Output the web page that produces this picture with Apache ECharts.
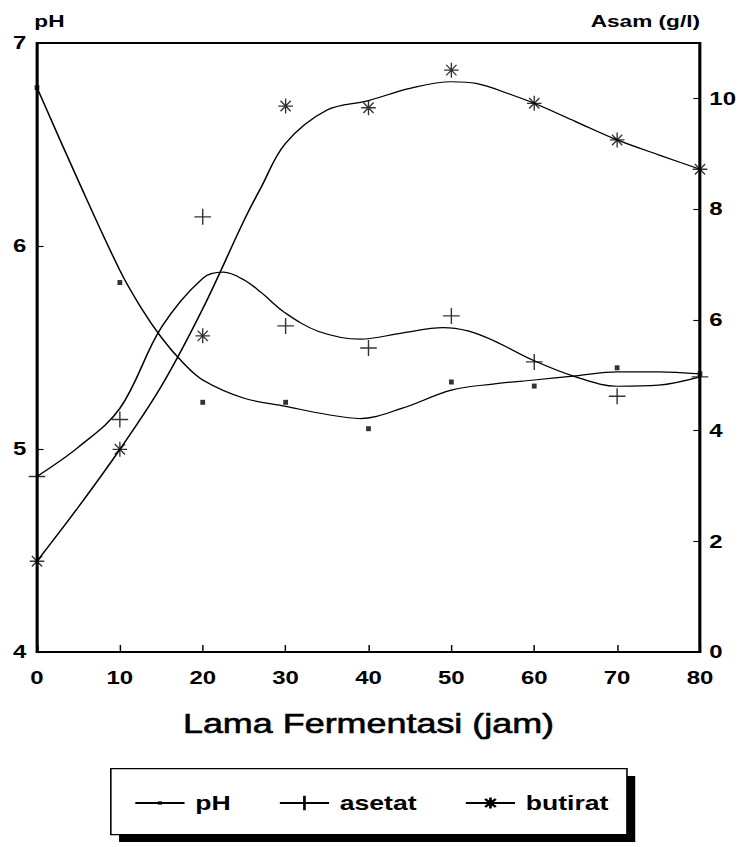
<!DOCTYPE html>
<html>
<head>
<meta charset="utf-8">
<script src="https://cdn.jsdelivr.net/npm/echarts@6/dist/echarts.min.js"></script>
<style>
html,body{margin:0;padding:0;background:#fff;overflow:hidden;width:741px;height:847px;}
/* the scanned original is stretched horizontally; draw at 557px and stretch to 741px */
#c{width:557px;height:847px;transform:scaleX(1.3303);transform-origin:0 0;}
</style>
</head>
<body>
<div id="c"></div>
<script>
// measured data points
const hours = [0, 10, 20, 30, 40, 50, 60, 70, 80];
const phValues = [6.78, 5.82, 5.23, 5.23, 5.10, 5.33, 5.31, 5.40, 5.37];
const asetatValues = [3.17, 4.20, 7.86, 5.89, 5.49, 6.07, 5.24, 4.62, 4.97];
const butiratValues = [1.64, 3.66, 5.71, 9.86, 9.83, 10.51, 9.91, 9.25, 8.72];

// fitted curves
const phCurveHours = [0, 5, 10, 12.5, 15, 17.5, 20, 25, 30, 35, 39, 44, 50, 55, 60, 65, 70, 75, 80];
const phCurve = [6.78, 6.32, 5.88, 5.70, 5.55, 5.43, 5.34, 5.25, 5.21, 5.17, 5.15, 5.20, 5.29, 5.32, 5.34, 5.36, 5.38, 5.38, 5.37];
const asetatCurveHours = [0, 5, 10, 15, 20, 22.5, 25, 27, 30, 34, 39, 44, 49, 52, 55, 60, 65, 70, 75, 80];
const asetatCurve = [3.17, 3.70, 4.40, 5.86, 6.75, 6.86, 6.72, 6.50, 6.12, 5.79, 5.65, 5.76, 5.86, 5.80, 5.63, 5.26, 4.97, 4.80, 4.82, 4.97];
const butiratCurveHours = [0, 5, 10, 15, 20, 25, 27, 30, 35, 40, 45, 50, 53, 57, 60, 65, 70, 75, 80];
const butiratCurve = [1.64, 2.62, 3.66, 4.80, 6.20, 7.80, 8.38, 9.19, 9.79, 9.96, 10.18, 10.30, 10.27, 10.08, 9.91, 9.58, 9.25, 8.98, 8.72];

const xTicks = [0, 10, 20, 30, 40, 50, 60, 70, 80];
const phTicks = [4, 5, 6, 7];
const acidTicks = [0, 2, 4, 6, 8, 10];
const acidMax = 11;

const seriesNames = ['pH', 'asetat', 'butirat'];

const pair = (xs, ys) => xs.map((x, i) => [x, ys[i]]);

const plusPath = 'path://M0,10L20,10M10,0L10,20';
const starPath = 'path://M0,10L20,10M10,0L10,20M3,3L17,17M17,3L3,17';
// legend icons (padded with empty moves so they keep a smaller size)
const legendDot = 'path://M0,0M20,20M8,8L12,8L12,12L8,12Z';
const legendPlus = 'path://M0,0M20,20M1,10L19,10M10,1L10,19';
const legendStar = 'path://M0,0M20,20M3,10L17,10M10,3L10,17M5,5L15,15M15,5L5,15';
const FONT = 'Liberation Sans, Arial, sans-serif';
const strokeStyle = {color: 'rgba(0,0,0,0)', borderColor: '#000', borderWidth: 1.2};

const chart = echarts.init(document.getElementById('c'), null, {renderer: 'svg'});
chart.setOption({
  backgroundColor: '#fff',
  animation: false,
  grid: {left: 27.8, right: 30.8, top: 43, bottom: 195, show: true, borderColor: '#000', borderWidth: 2, backgroundColor: 'transparent'},
  graphic: [
    {type: 'rect', left: 89.5, top: 776, z: 0, shape: {width: 388, height: 66}, style: {fill: '#000'}},
    {type: 'rect', left: 82.7, top: 768, z: 1, shape: {width: 388, height: 66}, style: {fill: '#fff', stroke: '#000', lineWidth: 1.2}}
  ],
  xAxis: {
    type: 'value', min: xTicks[0], max: xTicks[xTicks.length - 1], interval: 10,
    name: 'Lama Fermentasi (jam)', nameLocation: 'middle', nameGap: 58,
    nameTextStyle: {fontFamily: FONT, fontSize: 27, fontWeight: 'normal', color: '#000', textBorderColor: '#000', textBorderWidth: 0.6},
    axisLine: {lineStyle: {color: '#000', width: 2}},
    axisTick: {inside: true, length: 7, lineStyle: {color: '#000', width: 1.1}},
    axisLabel: {fontFamily: FONT, fontSize: 18, fontWeight: 'bold', color: '#000', margin: 17},
    splitLine: {show: false}
  },
  yAxis: [{
    type: 'value', min: phTicks[0], max: phTicks[phTicks.length - 1], interval: 1,
    name: 'pH', nameLocation: 'end', nameGap: 22,
    nameTextStyle: {fontFamily: FONT, fontSize: 17, fontWeight: 'bold', color: '#000', align: 'left', verticalAlign: 'middle', padding: [0, 0, 0, -2]},
    axisLine: {show: true, lineStyle: {color: '#000', width: 2}},
    axisTick: {inside: true, length: 5, lineStyle: {color: '#000', width: 1.1}},
    axisLabel: {fontFamily: FONT, fontSize: 18, fontWeight: 'bold', color: '#000', margin: 8},
    splitLine: {show: false}
  }, {
    type: 'value', min: acidTicks[0], max: acidMax, interval: 2, position: 'right',
    name: 'Asam (g/l)', nameLocation: 'end', nameGap: 22,
    nameTextStyle: {fontFamily: FONT, fontSize: 17, fontWeight: 'bold', color: '#000', align: 'right', verticalAlign: 'middle'},
    axisLine: {show: true, lineStyle: {color: '#000', width: 2}},
    axisTick: {inside: true, length: 5, lineStyle: {color: '#000', width: 1.1}},
    axisLabel: {fontFamily: FONT, fontSize: 18, fontWeight: 'bold', color: '#000', margin: 7, showMaxLabel: false,
      formatter: v => (acidTicks.indexOf(v) >= 0 ? String(v) : '')},
    splitLine: {show: false}
  }],
  legend: {
    data: seriesNames,
    left: 100.7, top: 793, z: 5,
    padding: 0,
    itemGap: 36, itemWidth: 37, itemHeight: 20,
    textStyle: {fontFamily: FONT, fontSize: 20, fontWeight: 'bold', color: '#000', padding: [0, 0, 0, 3]}
  },
  series: [
    {name: 'pH', type: 'line', yAxisIndex: 0, data: pair(phCurveHours, phCurve), smooth: 0.35,
      symbol: legendDot, showSymbol: false, lineStyle: {color: '#000', width: 1.2},
      itemStyle: {color: '#000'}, z: 3},
    {name: 'asetat', type: 'line', yAxisIndex: 1, data: pair(asetatCurveHours, asetatCurve), smooth: 0.35,
      symbol: legendPlus, showSymbol: false, lineStyle: {color: '#000', width: 1.2},
      itemStyle: strokeStyle, z: 3},
    {name: 'butirat', type: 'line', yAxisIndex: 1, data: pair(butiratCurveHours, butiratCurve), smooth: 0.35,
      symbol: legendStar, showSymbol: false, lineStyle: {color: '#000', width: 1.2},
      itemStyle: strokeStyle, z: 3},
    {name: 'pH data', type: 'scatter', yAxisIndex: 0, data: pair(hours, phValues),
      symbol: 'rect', symbolSize: [3.6, 5], itemStyle: {color: '#000'}, z: 4},
    {name: 'asetat data', type: 'scatter', yAxisIndex: 1, data: pair(hours, asetatValues),
      symbol: plusPath, symbolSize: [12.5, 16], itemStyle: strokeStyle, z: 4},
    {name: 'butirat data', type: 'scatter', yAxisIndex: 1, data: pair(hours, butiratValues),
      symbol: starPath, symbolSize: [11, 15], itemStyle: strokeStyle, z: 4}
  ]
});
</script>
</body>
</html>
